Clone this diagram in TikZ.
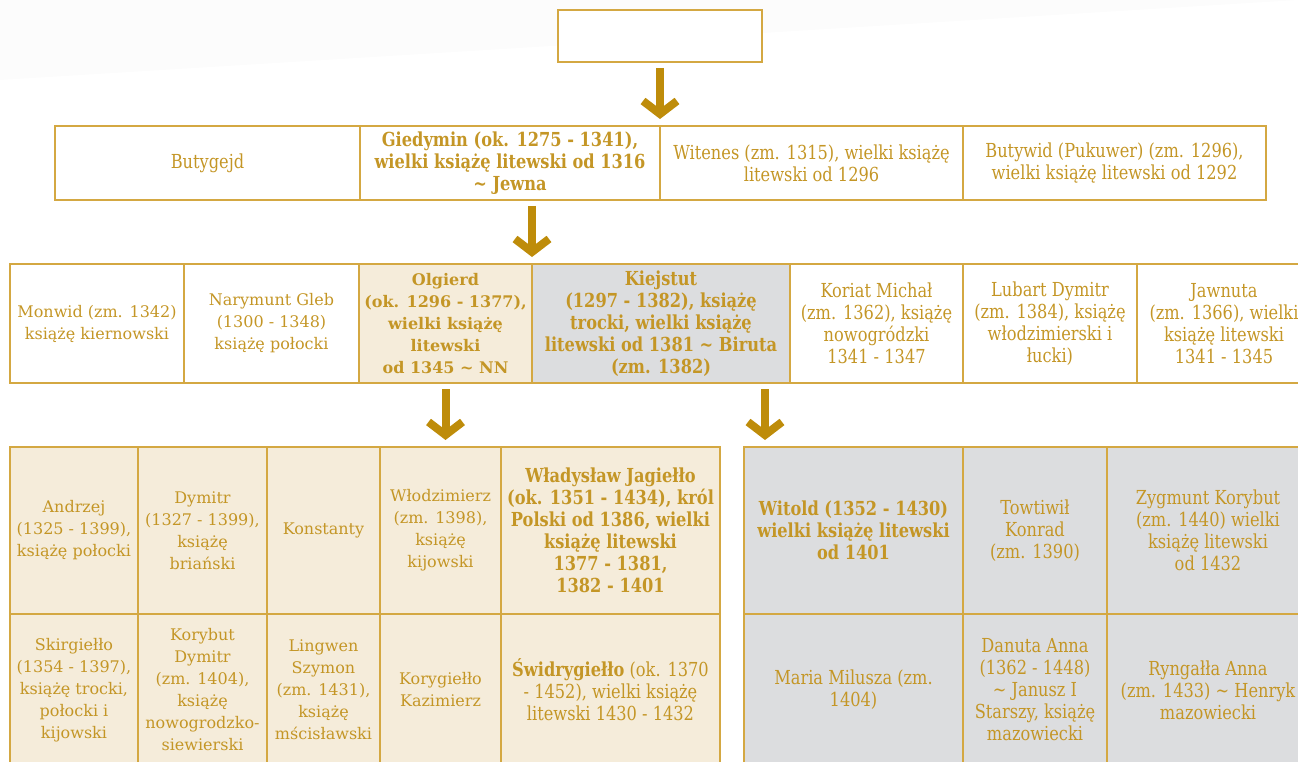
\documentclass[tikz,border=0pt]{standalone}
\usepackage{fontspec}
\setmainfont{DejaVu Serif}
\newfontfamily\narrowfont[FakeStretch=0.84]{DejaVu Serif}
\usepackage{tikz}
\usetikzlibrary{arrows.meta,calc,positioning}
\definecolor{gold}{RGB}{196,150,38}
\definecolor{cellline}{RGB}{212,168,66}
\definecolor{arrowgold}{RGB}{190,140,10}
\definecolor{beige}{RGB}{245,236,218}
\definecolor{greyfill}{RGB}{220,221,223}
\definecolor{haze}{RGB}{252,252,252}
\tikzset{
  cell/.style={
    rectangle,
    draw=cellline, line width=2pt,
    text=gold,
    align=center,
    inner sep=2pt, outer sep=0pt,
    font=\fontsize{16}{22}\selectfont},
  narrow/.style={font=\narrowfont\fontsize{19.3}{22}\selectfont},
  olgierdline/.style={fill=beige},
  kiejstutline/.style={fill=greyfill},
  down/.style={
    draw=arrowgold, line width=8pt,
    -{Straight Barb[length=13pt, width=34pt, line width=8pt]},
    shorten <=6pt, shorten >=7pt},
}

\begin{document}
\begin{tikzpicture}[x=1pt, y=-1pt]
    \useasboundingbox (0,0) rectangle (1298,762);
    \clip (0,0) rectangle (1298,762);

    %background
    \fill[haze] (0,0) -- (1298,0) -- (0,80) -- cycle;

    %top
    \node[cell, fill=white, minimum width=204, minimum height=52] (top) at (660,36) {};

    %first row
    \node[cell, narrow, minimum width=305, minimum height=74] (butygejd) at (207.5,163) {Butygejd};
    \node[cell, narrow, minimum width=300, minimum height=74] (giedymin) at (510,163)
        {\bfseries Giedymin (ok. 1275 - 1341),\\\bfseries wielki książę litewski od 1316\\\bfseries \textasciitilde{} Jewna};
    \node[cell, narrow, minimum width=303, minimum height=74] (witenes) at (811.5,163)
        {Witenes (zm. 1315), wielki książę\\litewski od 1296};
    \node[cell, narrow, minimum width=303, minimum height=74] (butywid) at (1114.5,163)
        {Butywid (Pukuwer) (zm. 1296),\\wielki książę litewski od 1292};

    %second row
    \node[cell, minimum width=174, minimum height=119] (monwid) at (97,323.5)
        {Monwid (zm. 1342)\\książę kiernowski};
    \node[cell, minimum width=175, minimum height=119] (narymunt) at (271.5,323.5)
        {Narymunt Gleb\\(1300 - 1348)\\książę połocki};
    \node[cell, olgierdline, minimum width=173, minimum height=119] (olgierd) at (445.5,323.5)
        {\bfseries Olgierd\\\bfseries (ok. 1296 - 1377),\\\bfseries wielki książę\\\bfseries litewski\\\bfseries od 1345 \textasciitilde{} NN};
    \node[cell, narrow, kiejstutline, minimum width=258, minimum height=119] (kiejstut) at (661,323.5)
        {\bfseries Kiejstut\\\bfseries (1297 - 1382), książę\\\bfseries trocki, wielki książę\\\bfseries litewski od 1381 \textasciitilde{} Biruta\\\bfseries (zm. 1382)};
    \node[cell, narrow, minimum width=173, minimum height=119] (koriat) at (876.5,323.5)
        {Koriat Michał\\(zm. 1362), książę\\nowogródzki\\1341 - 1347};
    \node[cell, narrow, minimum width=174, minimum height=119] (lubart) at (1050,323.5)
        {Lubart Dymitr\\(zm. 1384), książę\\włodzimierski i\\łucki)};
    \node[cell, narrow, minimum width=174, minimum height=119] (jawnuta) at (1224,323.5)
        {Jawnuta\\(zm. 1366), wielki\\książę litewski\\1341 - 1345};

    %children of Olgierd
    \node[cell, olgierdline, minimum width=128, minimum height=167] (andrzej) at (74,530.5)
        {Andrzej\\(1325 - 1399),\\książę połocki};
    \node[cell, olgierdline, minimum width=129, minimum height=167] (dymitr) at (202.5,530.5)
        {Dymitr\\(1327 - 1399),\\książę\\briański};
    \node[cell, olgierdline, minimum width=113, minimum height=167] (konstanty) at (323.5,530.5)
        {Konstanty};
    \node[cell, olgierdline, minimum width=121, minimum height=167] (wlodzimierz) at (440.5,530.5)
        {Włodzimierz\\(zm. 1398),\\książę\\kijowski};
    \node[cell, narrow, olgierdline, minimum width=219, minimum height=167] (jagiello) at (610.5,530.5)
        {\bfseries Władysław Jagiełło\\\bfseries (ok. 1351 - 1434), król\\\bfseries Polski od 1386, wielki\\\bfseries książę litewski\\\bfseries 1377 - 1381,\\\bfseries 1382 - 1401};

    \node[cell, olgierdline, minimum width=128, minimum height=152] (skirgiello) at (74,690)
        {Skirgiełło\\(1354 - 1397),\\książę trocki,\\połocki i\\kijowski};
    \node[cell, olgierdline, minimum width=129, minimum height=152] (korybut) at (202.5,690)
        {Korybut\\Dymitr\\(zm. 1404),\\książę\\nowogrodzko-\\siewierski};
    \node[cell, olgierdline, minimum width=113, minimum height=152] (lingwen) at (323.5,690)
        {Lingwen\\Szymon\\(zm. 1431),\\książę\\mścisławski};
    \node[cell, olgierdline, minimum width=121, minimum height=152] (korygiello) at (440.5,690)
        {Korygiełło\\Kazimierz};
    \node[cell, narrow, olgierdline, minimum width=219, minimum height=152] (swidrygiello) at (610.5,690)
        {\textbf{Świdrygiełło} (ok. 1370\\- 1452), wielki książę\\litewski 1430 - 1432};

    %children of Kiejstut
    \node[cell, narrow, kiejstutline, minimum width=219, minimum height=167] (witold) at (853.5,530.5)
        {\bfseries Witold (1352 - 1430)\\\bfseries wielki książę litewski\\\bfseries od 1401};
    \node[cell, narrow, kiejstutline, minimum width=144, minimum height=167] (towtiwil) at (1035,530.5)
        {Towtiwił\\Konrad\\(zm. 1390)};
    \node[cell, narrow, kiejstutline, minimum width=202, minimum height=167] (zygmunt) at (1208,530.5)
        {Zygmunt Korybut\\(zm. 1440) wielki\\książę litewski\\od 1432};

    \node[cell, narrow, kiejstutline, minimum width=219, minimum height=152] (maria) at (853.5,690)
        {Maria Milusza (zm.\\1404)};
    \node[cell, narrow, kiejstutline, minimum width=144, minimum height=152] (danuta) at (1035,690)
        {Danuta Anna\\(1362 - 1448)\\\textasciitilde{} Janusz I\\Starszy, książę\\mazowiecki};
    \node[cell, narrow, kiejstutline, minimum width=202, minimum height=152] (ryngalla) at (1208,690)
        {Ryngałła Anna\\(zm. 1433) \textasciitilde{} Henryk\\mazowiecki};

    %arrows
    \coordinate (kiejfoot) at (765,383);
    \draw[down] (top.south) -- (top.south |- witenes.north);
    \draw[down] (olgierd.north east |- giedymin.south) -- (olgierd.north east);
    \draw[down] (olgierd.south) -- (olgierd.south |- konstanty.north);
    \draw[down] (kiejfoot) -- (kiejfoot |- witold.north);

\end{tikzpicture}
\end{document}
